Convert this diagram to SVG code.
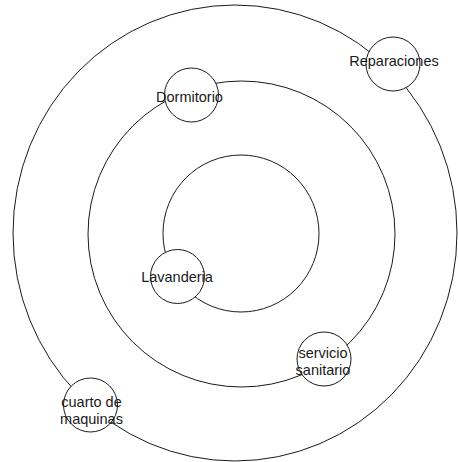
<svg xmlns="http://www.w3.org/2000/svg" width="458" height="462" viewBox="0 0 458 462">
<style>
.ring{fill:none;stroke:#1a1a1a;stroke-width:1}
.node circle{fill:#fff;stroke:#1a1a1a;stroke-width:1}
.node text{font-family:"Liberation Sans",Arial,sans-serif;font-size:14.5px;fill:#1a1a1a;text-anchor:middle}
</style>
<rect width="458" height="462" fill="#fff"/>
<g id="connectors">
<ellipse class="ring" cx="235" cy="233" rx="222" ry="228"/>
<ellipse class="ring" cx="241.5" cy="234" rx="153.5" ry="153"/>
<ellipse class="ring" cx="241" cy="233.5" rx="78" ry="78.5"/>
</g>
<g id="reparaciones" class="node"><circle cx="393" cy="64" r="27"/><text x="394" y="66">Reparaciones</text></g>
<g id="dormitorio" class="node"><circle cx="191.5" cy="95" r="27"/><text x="189.5" y="102">Dormitorio</text></g>
<g id="lavanderia" class="node"><circle cx="177.5" cy="276.5" r="27"/><text x="177" y="282">Lavanderia</text></g>
<g id="servicio-sanitario" class="node"><circle cx="324" cy="359" r="27"/><text x="323" y="358">servicio</text><text x="323" y="375">sanitario</text></g>
<g id="cuarto-de-maquinas" class="node"><circle cx="90.5" cy="405" r="27"/><text x="91.5" y="407">cuarto de</text><text x="91.5" y="424">maquinas</text></g>
</svg>
